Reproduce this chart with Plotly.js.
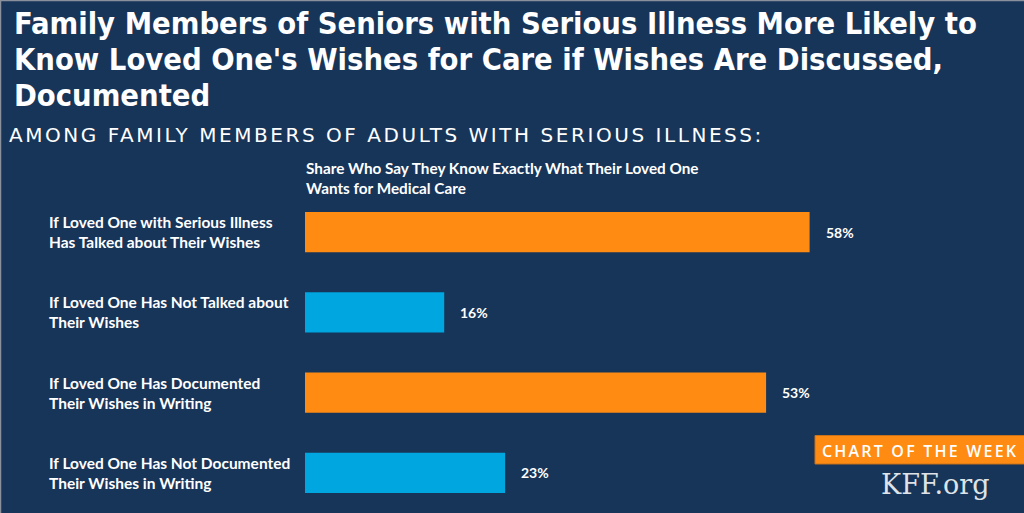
<!DOCTYPE html>
<html><head><meta charset="utf-8">
<script src="https://cdn.plot.ly/plotly-3.0.1.min.js"></script>
<style>html,body{margin:0;padding:0;background:#173559;}#chart{width:1024px;height:513px;}</style>
</head><body><div id="chart"></div>
<script>
const categories = [
  "If Loved One with Serious Illness<br>Has Talked about Their Wishes",
  "If Loved One Has Not Talked about<br>Their Wishes",
  "If Loved One Has Documented<br>Their Wishes in Writing",
  "If Loved One Has Not Documented<br>Their Wishes in Writing"
];
const values = [58, 16, 53, 23];
const barColors = ["#FF8B13", "#00A6DF", "#FF8B13", "#00A6DF"];
const titleLines = [
  "Family Members of Seniors with Serious Illness More Likely to",
  "Know Loved One's Wishes for Care if Wishes Are Discussed,",
  "Documented"
];
const subtitleText = "AMONG FAMILY MEMBERS OF ADULTS WITH SERIOUS ILLNESS:";
const headerText = "Share Who Say They Know Exactly What Their Loved One<br>Wants for Medical Care";
const badgeText = "CHART OF THE WEEK";
const sourceText = "KFF.org";

const W = 1024, H = 513, ML = 305, MT = 192, MR = 0, MB = 0;
const PW = W - ML - MR, PH = H - MT - MB;
const px = x => (x - ML) / PW;
const py = y => 1 - (y - MT) / PH;
const bg = "#173559";
const labFont = "Lato, 'Open Sans', sans-serif";
const titleFont = "'Liberation Sans Narrow', 'DejaVu Sans Condensed', sans-serif";

const idx = categories.map((_, i) => i);
const annotations = [];
titleLines.forEach((t, i) => {
  annotations.push({xref: "paper", yref: "paper", x: px(12), y: py(24 + i * 35.5), xanchor: "left", yanchor: "middle",
    text: "<b>" + t + "</b>", showarrow: false,
    font: {family: titleFont, size: 30.6, color: "#ffffff"}});
});
categories.forEach((c, i) => {
  annotations.push({xref: "paper", yref: "y", x: px(47), y: i, xanchor: "left", yanchor: "middle",
    align: "left", text: "<b>" + c + "</b>", showarrow: false,
    font: {family: labFont, size: 15.5, color: "#ffffff"}});
  annotations.push({xref: "x", yref: "y", x: values[i], y: i, xanchor: "left", yanchor: "middle",
    xshift: 14, text: "<b>" + values[i] + "%</b>", showarrow: false,
    font: {family: labFont, size: 14, color: "#ffffff"}});
});
annotations.push({xref: "paper", yref: "paper", x: px(7), y: py(135), xanchor: "left", yanchor: "middle",
  text: subtitleText, showarrow: false,
  font: {family: "'DejaVu Sans', sans-serif", size: 20, color: "#ffffff"}});
annotations.push({xref: "paper", yref: "paper", x: px(304), y: py(177.5), xanchor: "left", yanchor: "middle",
  align: "left", text: "<b>" + headerText + "</b>", showarrow: false,
  font: {family: labFont, size: 15.3, color: "#ffffff"}});
annotations.push({xref: "paper", yref: "paper", x: px(820), y: py(450.5), xanchor: "left", yanchor: "middle",
  text: badgeText, showarrow: false,
  font: {family: "'Open Sans', sans-serif", size: 16, weight: 600, color: "#ffffff"}});
annotations.push({xref: "paper", yref: "paper", x: px(935), y: py(484), xanchor: "center", yanchor: "middle",
  text: sourceText, showarrow: false,
  font: {family: "'DejaVu Serif', 'Liberation Serif', serif", size: 27, color: "#dfe3e8"}});

const shapes = [
  {type: "rect", xref: "paper", yref: "paper", x0: px(815), x1: px(1025), y0: py(435.5), y1: py(464),
   fillcolor: "#FF8B13", line: {color: "#c9701a", width: 1}, layer: "below"},
  {type: "line", xref: "paper", yref: "paper", x0: px(0.5), x1: px(0.5), y0: py(0), y1: py(513),
   line: {color: "#8a919c", width: 1.5}},
  {type: "line", xref: "paper", yref: "paper", x0: px(0), x1: px(1024), y0: py(0.5), y1: py(0.5),
   line: {color: "#8a919c", width: 1.5}}
];

const trace = {type: "bar", orientation: "h", x: values, y: idx,
  marker: {color: barColors}, width: 0.5, hoverinfo: "skip"};

const layout = {
  width: W, height: H, paper_bgcolor: bg, plot_bgcolor: bg,
  margin: {l: ML, r: MR, t: MT, b: MB},
  xaxis: {range: [0, PW / 8.7], visible: false, fixedrange: true},
  yaxis: {range: [3.5, -0.5], visible: false, fixedrange: true},
  showlegend: false, annotations: annotations, shapes: shapes
};
Plotly.newPlot("chart", [trace], layout, {displayModeBar: false, staticPlot: true}).then(gd => {
  const spacing = {};
  spacing[subtitleText] = 2.55;
  spacing[badgeText] = 2.2;
  gd.querySelectorAll(".annotation-text").forEach(el => {
    const s = spacing[el.textContent];
    if (s === undefined) return;
    const x0 = el.getBBox().x;
    el.style.letterSpacing = s + "px";
    const x1 = el.getBBox().x;
    const cur = parseFloat(el.getAttribute("x") || "0");
    el.setAttribute("x", cur + (x0 - x1));
  });
});
</script></body></html>
